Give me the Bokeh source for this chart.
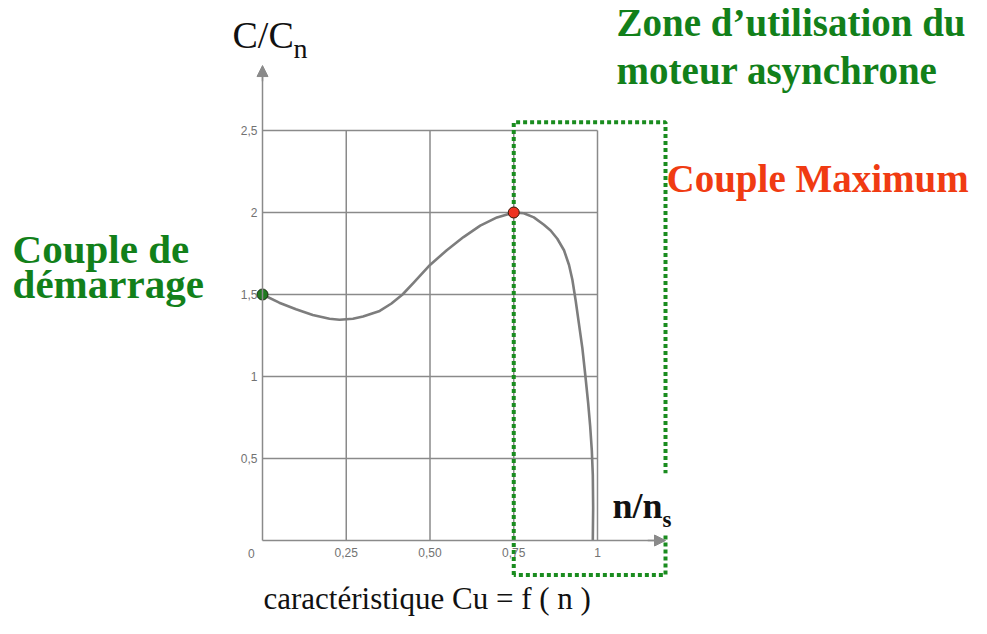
from bokeh.plotting import figure
from bokeh.models import Range1d, FixedTicker, Arrow, NormalHead
from bokeh.core.properties import value
from bokeh.embed import file_html
from bokeh.resources import INLINE

# ---- data ----
n_ratio = [0.0, 0.05, 0.10, 0.15, 0.20, 0.23, 0.27, 0.30, 0.35, 0.385, 0.418, 0.45, 0.50,
           0.55, 0.60, 0.65, 0.70, 0.75, 0.78, 0.81, 0.84, 0.86, 0.88, 0.90, 0.915,
           0.925, 0.935, 0.944, 0.955, 0.964, 0.972, 0.978, 0.983, 0.986, 0.987, 0.986]
torque = [1.50, 1.45, 1.41, 1.375, 1.352, 1.346, 1.352, 1.366, 1.40, 1.445, 1.50, 1.57, 1.68,
          1.77, 1.85, 1.92, 1.97, 2.00, 1.995, 1.97, 1.925, 1.89, 1.84, 1.77, 1.68,
          1.59, 1.46, 1.33, 1.17, 1.00, 0.84, 0.70, 0.55, 0.40, 0.20, 0.0]
x_ticks = [0.25, 0.5, 0.75, 1.0]
x_tick_labels = ["0,25", "0,50", "0,75", "1"]
y_ticks = [0.5, 1.0, 1.5, 2.0, 2.5]
y_tick_labels = ["0,5", "1", "1,5", "2", "2,5"]
start_point = [0.0, 1.5]
max_point = [0.75, 2.0]
grid_x_max = 1.0
grid_y_max = 2.5

GRAY = "#8a8a8a"
GREEN = "#12801a"
DOT_GREEN = "#1a8c1f"
RED = "#f03b12"
SERIF = value("Liberation Serif")

W, H = 971, 618
# frame covers whole canvas: x=0 at 262 px, 335 px/unit ; y=0 at 540 px, 164 px/unit
p = figure(width=W, height=H,
           x_range=Range1d((0 - 262) / 335, (W - 262) / 335),
           y_range=Range1d((540 - H) / 164, 540 / 164),
           output_backend="svg", toolbar_location=None, min_border=0,
           background_fill_color="white", border_fill_color="white")
p.outline_line_color = None
p.grid.visible = False

# axes through the origin
for ax in (p.xaxis, p.yaxis):
    ax.fixed_location = 0
    ax.axis_line_color = GRAY
    ax.axis_line_width = 1.5
    ax.major_tick_line_color = None
    ax.minor_tick_line_color = None
    ax.major_tick_out = 0
    ax.major_tick_in = 0
    ax.major_label_text_font = "Liberation Sans"
    ax.major_label_text_font_size = "12px"
    ax.major_label_text_color = "#727272"
p.xaxis.bounds = (0, 1.2)
p.xaxis.ticker = FixedTicker(ticks=x_ticks)
p.xaxis.major_label_overrides = dict(zip(x_ticks, x_tick_labels))
p.xaxis.major_label_standoff = 7
p.yaxis.bounds = (0, 2.88)
p.yaxis.ticker = FixedTicker(ticks=y_ticks)
p.yaxis.major_label_overrides = dict(zip(y_ticks, y_tick_labels))
p.yaxis.major_label_standoff = 5

# grid box
p.segment(x0=x_ticks, y0=[0] * len(x_ticks), x1=x_ticks, y1=[grid_y_max] * len(x_ticks),
          line_color=GRAY, line_width=1.5)
p.segment(x0=[0] * len(y_ticks), y0=y_ticks, x1=[grid_x_max] * len(y_ticks), y1=y_ticks,
          line_color=GRAY, line_width=1.5)

# arrows on the axes
p.add_layout(Arrow(end=NormalHead(size=11, fill_color=GRAY, line_color=GRAY),
                   x_start=1.15, y_start=0, x_end=1.203, y_end=0,
                   line_color=GRAY, line_width=1.5))
p.add_layout(Arrow(end=NormalHead(size=11, fill_color=GRAY, line_color=GRAY),
                   x_start=0, y_start=2.8, x_end=0, y_end=2.896,
                   line_color=GRAY, line_width=1.5))

# torque curve
p.line(n_ratio, torque, line_color="#7d7d7d", line_width=2.6, line_join="round")

# operating-zone dotted frame
zl, zr, zt, zb = max_point[0], 1.203, 2.55, -0.21
p.multi_line(xs=[[zl, zl, zr, zr], [zr, zr, zl]],
             ys=[[zb, zt, zt, 0.41], [0.03, zb, zb]],
             line_color=DOT_GREEN, line_width=4, line_dash="4 3", line_cap="butt")

# points
p.scatter([start_point[0]], [start_point[1]], size=11, fill_color="#1f7a1f",
          line_color="#1a2a10", line_width=1)
p.scatter([max_point[0]], [max_point[1]], size=11, fill_color="#ee3322",
          line_color="#3a1a0a", line_width=1)

# "0" origin label
p.text(x=[-0.033], y=[-0.079], text=["0"], text_font=value("Liberation Sans"),
       text_font_size="12px", text_color="#727272", text_align="center",
       text_baseline="middle")

# axis titles
p.text(x=[-0.0896], y=[3.085], text=["C/C"], text_font=SERIF, text_font_size="38px",
       text_color="#111111", text_baseline="alphabetic")
p.text(x=[0.0925], y=[3.0], text=["n"], text_font=SERIF, text_font_size="28px",
       text_color="#111111", text_baseline="alphabetic")
p.text(x=[1.045], y=[0.213], text=["n/n"], text_font=SERIF, text_font_size="36px",
       text_font_style="bold", text_color="#111111", text_baseline="alphabetic")
p.text(x=[1.194], y=[0.128], text=["s"], text_font=SERIF, text_font_size="23px",
       text_font_style="bold", text_color="#111111", text_baseline="alphabetic")

# annotations
p.text(x=[1.057, 1.057], y=[3.159, 2.866],
       text=["Zone d\u2019utilisation du", "moteur asynchrone"],
       text_font=SERIF, text_font_size="39px", text_font_style="bold",
       text_color=GREEN, text_baseline="alphabetic")
p.text(x=[1.206], y=[2.207], text=["Couple Maximum"], text_font=SERIF,
       text_font_size="39px", text_font_style="bold", text_color=RED,
       text_baseline="alphabetic")
p.text(x=[-0.746, -0.746], y=[1.780, 1.561], text=["Couple de", "d\u00e9marrage"],
       text_font=SERIF, text_font_size="41px", text_font_style="bold",
       text_color=GREEN, text_baseline="alphabetic")
p.text(x=[0.003], y=[-0.354], text=["caract\u00e9ristique  Cu = f ( n )"],
       text_font=SERIF, text_font_size="31px", text_color="#111111",
       text_baseline="alphabetic")

open("out.html", "w").write(file_html(p, INLINE))
